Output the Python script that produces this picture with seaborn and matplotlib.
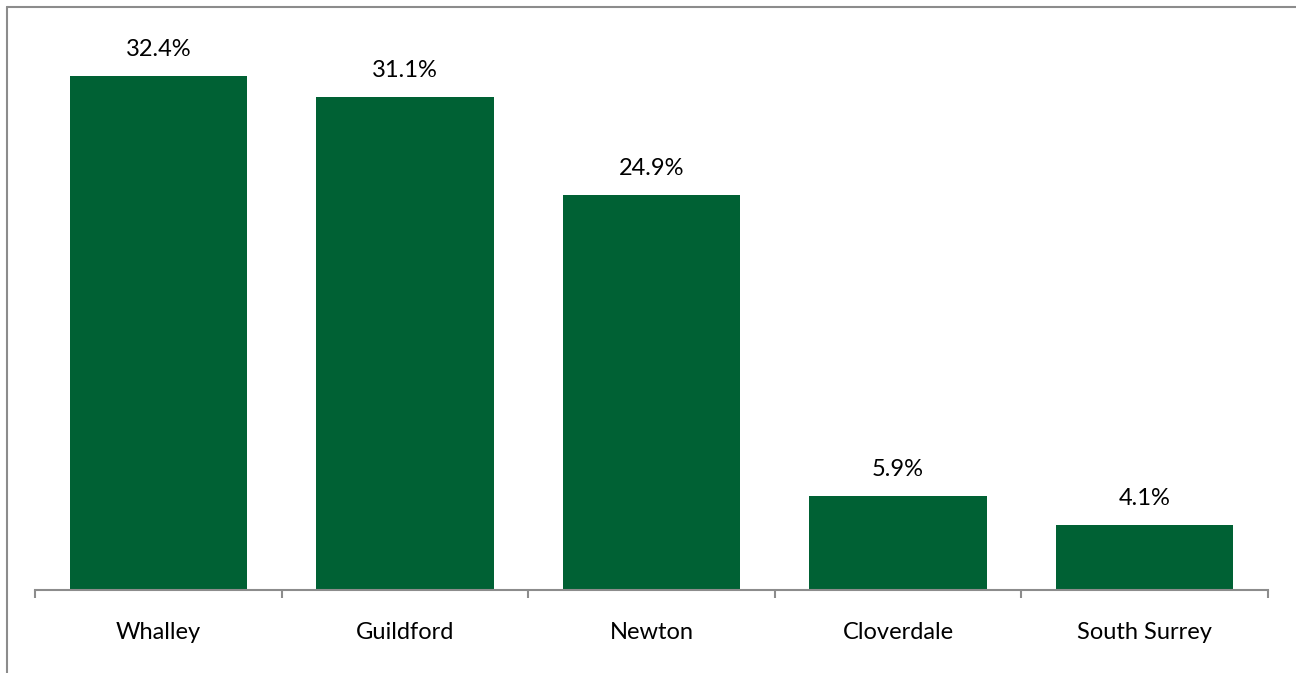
import matplotlib
matplotlib.use("Agg")
import matplotlib.pyplot as plt
import seaborn as sns
import pandas as pd
import numpy as np
from matplotlib.lines import Line2D

regions = ["Whalley", "Guildford", "Newton", "Cloverdale", "South Surrey"]
shares = [32.4, 31.1, 24.9, 5.9, 4.1]

df = pd.DataFrame({"region": regions, "share": shares})

sns.set_theme(style="white")
plt.rcParams["font.family"] = ["Lato", "DejaVu Sans"]

W, H = 1296, 673
fig = plt.figure(figsize=(W / 100, H / 100), dpi=100)
ax = fig.add_axes([35 / W, (H - 590) / H, (1268 - 35) / W, (590 - 35) / H])

green = "#006134"
sns.barplot(data=df, x="region", y="share", color=green, width=0.72,
            saturation=1, ax=ax)
for p in ax.patches:
    p.set_edgecolor("none")

ax.set_xlim(-0.5, len(regions) - 0.5)
ax.set_ylim(0, 35)
ax.set_xlabel("")
ax.set_ylabel("")
ax.set_yticks([])

for c in ax.containers:
    ax.bar_label(c, labels=[f"{v:.1f}%" for v in shares], padding=11.5,
                 fontsize=17, color="#000000")

for s in ["top", "right", "left"]:
    ax.spines[s].set_visible(False)
ax.spines["bottom"].set_color("#8c8c8c")
ax.spines["bottom"].set_linewidth(1.5)

# category separators as ticks, labels centered on categories
ax.set_xticks(np.arange(len(regions)))
ax.set_xticklabels(regions, fontsize=17, color="#000000")
ax.tick_params(axis="x", which="major", length=0, pad=23)
ax.set_xticks(np.arange(len(regions) + 1) - 0.5, minor=True)
ax.tick_params(axis="x", which="minor", length=6, width=1.5,
               color="#8c8c8c", direction="out")
ax.tick_params(axis="x", which="minor", bottom=True)

# outer frame lines of the chart area
fig.add_artist(Line2D([6.5 / W, 6.5 / W], [0, (H - 6.5) / H],
                      color="#8c8c8c", lw=1.5, transform=fig.transFigure))
fig.add_artist(Line2D([6.5 / W, 1], [(H - 6.5) / H, (H - 6.5) / H],
                      color="#8c8c8c", lw=1.5, transform=fig.transFigure))

fig.savefig("out.png", dpi=100)
